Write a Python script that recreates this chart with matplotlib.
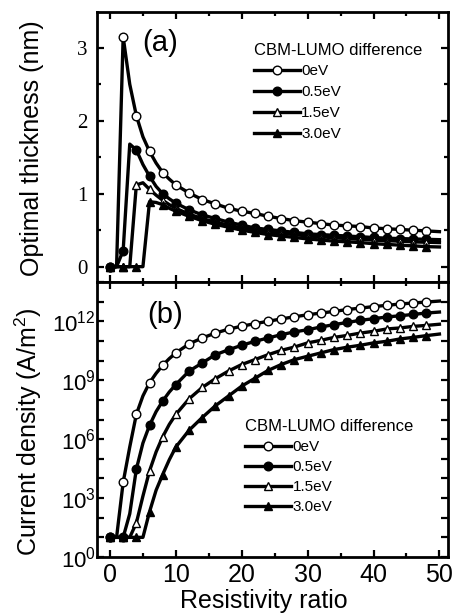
import matplotlib
matplotlib.use("Agg")
import matplotlib.pyplot as plt
from matplotlib.ticker import MultipleLocator, FixedLocator, FuncFormatter, NullLocator
import numpy as np

plt.rcParams['font.family'] = ['Liberation Sans', 'DejaVu Sans']
plt.rcParams['mathtext.fontset'] = 'custom'
plt.rcParams['mathtext.rm'] = 'Liberation Sans'
plt.rcParams['mathtext.it'] = 'Liberation Sans:italic'
plt.rcParams['mathtext.bf'] = 'Liberation Sans:bold'

# ---------------- data ----------------
ratio = [0, 1, 2, 3, 4, 5, 6, 7, 8, 9, 10, 12, 14, 16, 18, 20, 22, 24, 26, 28,
         30, 32, 34, 36, 38, 40, 42, 44, 46, 48, 50]

labels = ["0eV", "0.5eV", "1.5eV", "3.0eV"]

# (a) optimal thickness, nm
thick_0 = [0, 0, 3.15, 2.5, 2.07, 1.78, 1.58, 1.42, 1.29, 1.2, 1.12, 1.01, 0.92, 0.86,
           0.80, 0.76, 0.73, 0.69, 0.66, 0.63, 0.61, 0.59, 0.57, 0.56, 0.55, 0.53,
           0.52, 0.51, 0.50, 0.49, 0.48]
thick_05 = [0, 0, 0.22, 1.68, 1.6, 1.4, 1.24, 1.1, 1.0, 0.93, 0.87, 0.78, 0.71, 0.66,
            0.61, 0.57, 0.53, 0.51, 0.49, 0.47, 0.45, 0.44, 0.43, 0.42, 0.41, 0.40,
            0.39, 0.385, 0.38, 0.375, 0.37]
thick_15 = [0, 0, 0, 0, 1.12, 1.15, 1.06, 0.98, 0.91, 0.85, 0.80, 0.72, 0.66, 0.61,
            0.57, 0.53, 0.50, 0.475, 0.455, 0.44, 0.42, 0.41, 0.395, 0.385, 0.375,
            0.365, 0.355, 0.35, 0.34, 0.335, 0.33]
thick_30 = [0, 0, 0, 0, 0, 0, 0.89, 0.88, 0.85, 0.80, 0.76, 0.69, 0.63, 0.58, 0.54,
            0.50, 0.47, 0.44, 0.42, 0.40, 0.38, 0.365, 0.35, 0.34, 0.33, 0.315,
            0.305, 0.295, 0.285, 0.275, 0.27]

# (b) current density, log10(A/m^2)
logj_0 = [1, 1, 3.8, 5.6, 7.26, 8.2, 8.87, 9.35, 9.76, 10.1, 10.39, 10.85, 11.15, 11.4,
          11.6, 11.75, 11.88, 12.0, 12.12, 12.23, 12.33, 12.42, 12.5, 12.6, 12.67,
          12.75, 12.81, 12.88, 12.93, 12.98, 13.03]
logj_05 = [1, 1, 1, 2.2, 4.47, 5.8, 6.7, 7.4, 7.94, 8.4, 8.78, 9.46, 9.88, 10.3, 10.55,
           10.78, 10.98, 11.15, 11.32, 11.46, 11.57, 11.71, 11.83, 11.94, 12.05, 12.13,
           12.22, 12.28, 12.35, 12.42, 12.47]
logj_15 = [1, 1, 1, 1, 1.73, 3.1, 4.38, 5.35, 6.12, 6.75, 7.26, 8.05, 8.63, 9.08, 9.47,
           9.8, 10.05, 10.3, 10.52, 10.69, 10.9, 11.03, 11.18, 11.28, 11.4, 11.49,
           11.61, 11.66, 11.74, 11.79, 11.85]
logj_30 = [1, 1, 1, 1, 1, 1, 2.3, 3.4, 4.2, 4.95, 5.6, 6.45, 7.1, 7.7, 8.2, 8.7, 9.1,
           9.5, 9.8, 10.05, 10.22, 10.39, 10.56, 10.68, 10.78, 10.9, 10.98, 11.1,
           11.18, 11.27, 11.35]

# ---------------- style ----------------
x = np.array(ratio, dtype=float)
mark_idx = [i for i, v in enumerate(ratio) if v % 2 == 0 and v <= 48]
styles = [dict(marker='o', mfc='white'), dict(marker='o', mfc='black'),
          dict(marker='^', mfc='white'), dict(marker='^', mfc='black')]
LW = 2.4
MS = 6.2

fig = plt.figure(figsize=(4.54, 6.16), dpi=100)
W, H = 454.0, 616.0
L, R = 97, 448
ax1 = fig.add_axes([L / W, 1 - 282 / H, (R - L) / W, 270 / H])
ax2 = fig.add_axes([L / W, 1 - 557 / H, (R - L) / W, 275 / H])

# ---- panel (a)
tseries = [thick_0, thick_05, thick_15, thick_30]
for lab, y, st in zip(labels, tseries, styles):
    y = np.array(y)
    if lab == "1.5eV":
        ax1.plot(x, y, color='black', lw=LW, label=lab, marker=st['marker'],
                 mfc=st['mfc'], mec='black', mew=1.0, ms=MS,
                 markevery=[i for i in mark_idx if ratio[i] <= 6])
        tail = [i for i in mark_idx if ratio[i] > 6]
        ax1.plot(x[tail], y[tail], ls='none',
                 marker='^', mfc='white', mec='black', mew=0.8, ms=4.2)
    else:
        ax1.plot(x, y, color='black', lw=LW, label=lab, marker=st['marker'],
                 mfc=st['mfc'], mec='black', mew=1.0, ms=MS, markevery=mark_idx)

# ---- panel (b)
jseries = [logj_0, logj_05, logj_15, logj_30]
for lab, lj, st in zip(labels, jseries, styles):
    yv = 10.0 ** np.array(lj)
    ax2.plot(x, yv, color='black', lw=LW, label=lab, marker=st['marker'],
             mfc=st['mfc'], mec='black', mew=1.0, ms=MS, markevery=mark_idx)

# ---- axes formatting
for ax in (ax1, ax2):
    ax.set_xlim(-1.97, 51.3)
    for s in ax.spines.values():
        s.set_linewidth(2.0)
    ax.xaxis.set_major_locator(MultipleLocator(10))
    ax.xaxis.set_minor_locator(MultipleLocator(5))
    ax.tick_params(which='both', direction='in', top=True, right=True, width=1.6)
    ax.tick_params(which='major', length=5)
    ax.tick_params(which='minor', length=3)

ax1.set_ylim(-0.21, 3.49)
ax1.yaxis.set_major_locator(MultipleLocator(1))
ax1.yaxis.set_minor_locator(MultipleLocator(0.5))
ax1.tick_params(axis='x', labelbottom=False)
ax1.tick_params(axis='y', pad=7)
for t in ax1.get_yticklabels():
    t.set_fontfamily('Liberation Serif')
    t.set_fontsize(15)

ax2.set_yscale('log')
ax2.set_ylim(1, 1e14)
ax2.yaxis.set_major_locator(FixedLocator([10.0 ** k for k in range(0, 15)]))
ax2.yaxis.set_minor_locator(NullLocator())
ax2.yaxis.set_major_formatter(FuncFormatter(
    lambda v, p: (r"$10^{%d}$" % round(np.log10(v))) if round(np.log10(v)) % 3 == 0 else ""))
ax2.tick_params(axis='y', labelsize=16, pad=1)
ax2.tick_params(axis='x', labelsize=18, pad=4)

ax1.set_ylabel("Optimal thickness (nm)", fontsize=18)
ax1.yaxis.set_label_coords(-0.152, 0.494)
ax2.set_ylabel("Current density (A/m$^2$)", fontsize=18)
ax2.yaxis.set_label_coords(-0.152, 0.4545)
ax2.set_xlabel("Resistivity ratio", fontsize=18)
ax2.xaxis.set_label_coords(0.476, -0.118)

ax1.text(0.128, 0.885, "(a)", transform=ax1.transAxes, fontsize=21, va='center', ha='left')
ax2.text(0.142, 0.88, "(b)", transform=ax2.transAxes, fontsize=21, va='center', ha='left')

# legends
h1, l1 = ax1.get_legend_handles_labels()
leg1 = ax1.legend(h1[:4], labels, title="CBM-LUMO difference", loc='upper left',
                  bbox_to_anchor=(0.425, 0.915), frameon=False, fontsize=11,
                  title_fontsize=12, handlelength=3.0, handletextpad=0.1,
                  labelspacing=0.45, borderpad=0, alignment='left')
leg2 = ax2.legend(labels=labels, title="CBM-LUMO difference", loc='upper left',
                  bbox_to_anchor=(0.40, 0.53), frameon=False, fontsize=11,
                  title_fontsize=12, handlelength=3.0, handletextpad=0.1,
                  labelspacing=0.4, borderpad=0, alignment='left')

fig.savefig("out.png", dpi=100)
